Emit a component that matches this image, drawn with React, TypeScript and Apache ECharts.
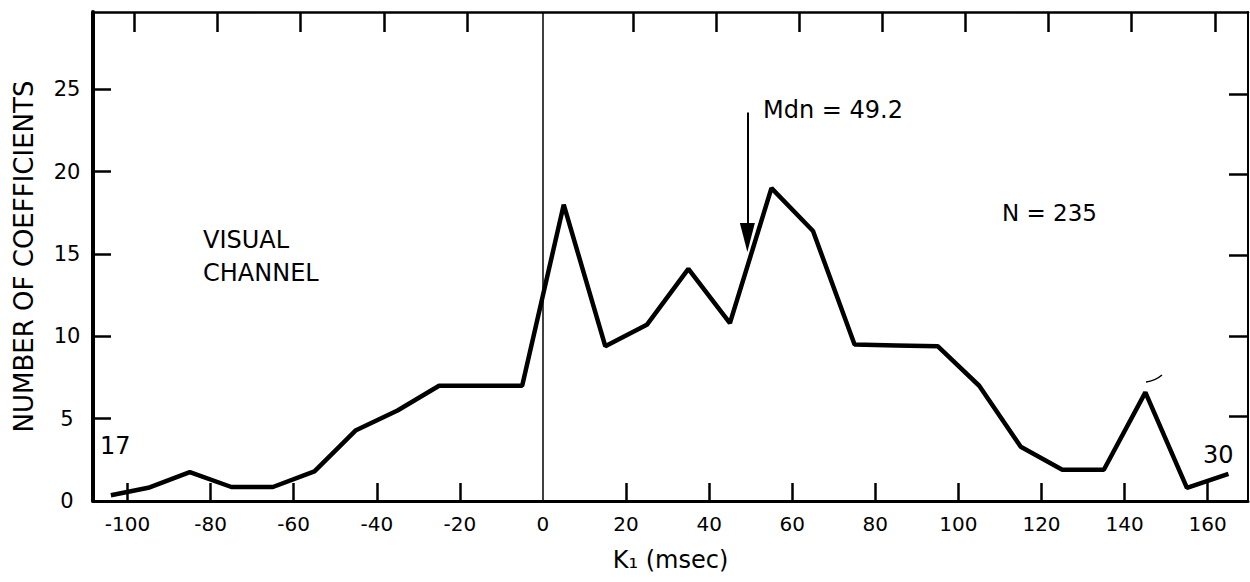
import React, { useEffect, useRef } from "react";
import * as echarts from "echarts";

// K1 bin centres (msec) and number of coefficients
const kValues = [-104, -95, -85, -75, -65, -55, -45, -35, -25, -15, -5, 5, 15, 25, 35, 45, 55, 65, 75, 85, 95, 105, 115, 125, 135, 145, 155, 165];
const counts = [0.35, 0.8, 1.75, 0.85, 0.85, 1.8, 4.3, 5.5, 7.0, 7.0, 7.0, 18.0, 9.4, 10.7, 14.1, 10.8, 19.0, 16.4, 9.5, 9.45, 9.4, 7.0, 3.3, 1.9, 1.9, 6.6, 0.8, 1.65];

const xLabelValues = [-100, -80, -60, -40, -20, 0, 20, 40, 60, 80, 100, 120, 140, 160];
const xTickValues = [-100, -80, -60, -40, -20, 20, 40, 60, 80, 100, 120, 140, 160];
const yLabelValues = [0, 5, 10, 15, 20, 25];
const yTickValues = [5, 10, 15, 20, 25];

const medianK = 49.2;
const arrowTop = 23.6;
const arrowEnd = 16.0;

const FONT = "DejaVu Sans";

export default function App() {
  const ref = useRef<HTMLDivElement>(null);

  useEffect(() => {
    if (!ref.current) return;
    const chart = echarts.init(ref.current, null, { renderer: "svg" });
    const black = "#000";
    chart.setOption({
      animation: false,
      backgroundColor: "#fff",
      grid: { left: 93, right: 2, top: 12, bottom: 81, containLabel: false },
      xAxis: [
        {
          type: "value",
          position: "bottom",
          min: -108.3,
          max: 169.7,
          name: "K₁ (msec)",
          nameLocation: "middle",
          nameGap: 47,
          nameTextStyle: { color: black, fontSize: 24, fontFamily: FONT },
          axisLine: { show: true, onZero: false, lineStyle: { color: black, width: 3 } },
          axisTick: { show: true, inside: true, length: 18, customValues: xTickValues, lineStyle: { color: black, width: 2.5 } },
          axisLabel: { show: true, customValues: xLabelValues, color: black, fontSize: 20, fontFamily: FONT, margin: 13 },
          splitLine: { show: false },
        },
        {
          type: "value",
          position: "top",
          min: -110,
          max: 168,
          axisLine: { show: true, onZero: false, lineStyle: { color: black, width: 2.5 } },
          axisTick: { show: true, inside: true, length: 20, customValues: xTickValues, lineStyle: { color: black, width: 2.5 } },
          axisLabel: { show: false },
          splitLine: { show: false },
        },
      ],
      yAxis: [
        {
          type: "value",
          position: "left",
          min: 0,
          max: 29.7,
          name: "NUMBER OF COEFFICIENTS",
          nameLocation: "middle",
          nameGap: 56,
          nameTextStyle: { color: black, fontSize: 26, fontFamily: FONT },
          axisLine: { show: true, onZero: false, lineStyle: { color: black, width: 4 } },
          axisTick: { show: true, inside: true, length: 18, customValues: yTickValues, lineStyle: { color: black, width: 2.5 } },
          axisLabel: { show: true, customValues: yLabelValues, color: black, fontSize: 21, fontFamily: FONT, margin: 26, align: "center" },
          splitLine: { show: false },
        },
        {
          type: "value",
          position: "right",
          min: -0.25,
          max: 30.1,
          axisLine: { show: true, onZero: false, lineStyle: { color: black, width: 2 } },
          axisTick: { show: true, inside: true, length: 19, customValues: yTickValues, lineStyle: { color: black, width: 2.5 } },
          axisLabel: { show: false },
          splitLine: { show: false },
        },
      ],
      series: [
        {
          type: "line",
          name: "Coefficients",
          xAxisIndex: 0,
          yAxisIndex: 0,
          data: kValues.map((k, i) => [k, counts[i]]),
          symbol: "none",
          z: 5,
          lineStyle: { color: black, width: 4.5 },
          markLine: {
            silent: true,
            animation: false,
            label: { show: false },
            symbol: ["none", "none"],
            lineStyle: { color: black, width: 2, type: "solid" },
            data: [
              { xAxis: 0, symbol: "none", lineStyle: { color: black, width: 1.5, type: "solid" } },
              [
                { coord: [medianK, arrowTop], symbol: "none" },
                { coord: [medianK, arrowEnd], symbol: "triangle", symbolSize: [15, 29] },
              ],
            ],
          },
        },
      ],
      graphic: [
        { type: "text", left: 203, top: 228, style: { text: "VISUAL", fontSize: 24, fontFamily: FONT, fill: black } },
        { type: "text", left: 203, top: 261, style: { text: "CHANNEL", fontSize: 24, fontFamily: FONT, fill: black } },
        { type: "text", left: 763, top: 98, style: { text: "Mdn = 49.2", fontSize: 24, fontFamily: FONT, fill: black } },
        { type: "text", left: 1002, top: 201, style: { text: "N = 235", fontSize: 23, fontFamily: FONT, fill: black } },
        { type: "text", left: 100, top: 434, style: { text: "17", fontSize: 24, fontFamily: FONT, fill: black } },
        { type: "text", left: 1203, top: 443, style: { text: "30", fontSize: 24, fontFamily: FONT, fill: black } },
        {
          type: "bezierCurve",
          shape: { x1: 1146, y1: 382, x2: 1162, y2: 375, cpx1: 1155, cpy1: 381 },
          style: { stroke: black, lineWidth: 1.5, fill: "none" },
        },
      ],
    });
    return () => chart.dispose();
  }, []);

  return (
    <div
      ref={ref}
      style={{ position: "fixed", left: 0, top: 0, width: 1250, height: 582, background: "#fff" }}
    />
  );
}
